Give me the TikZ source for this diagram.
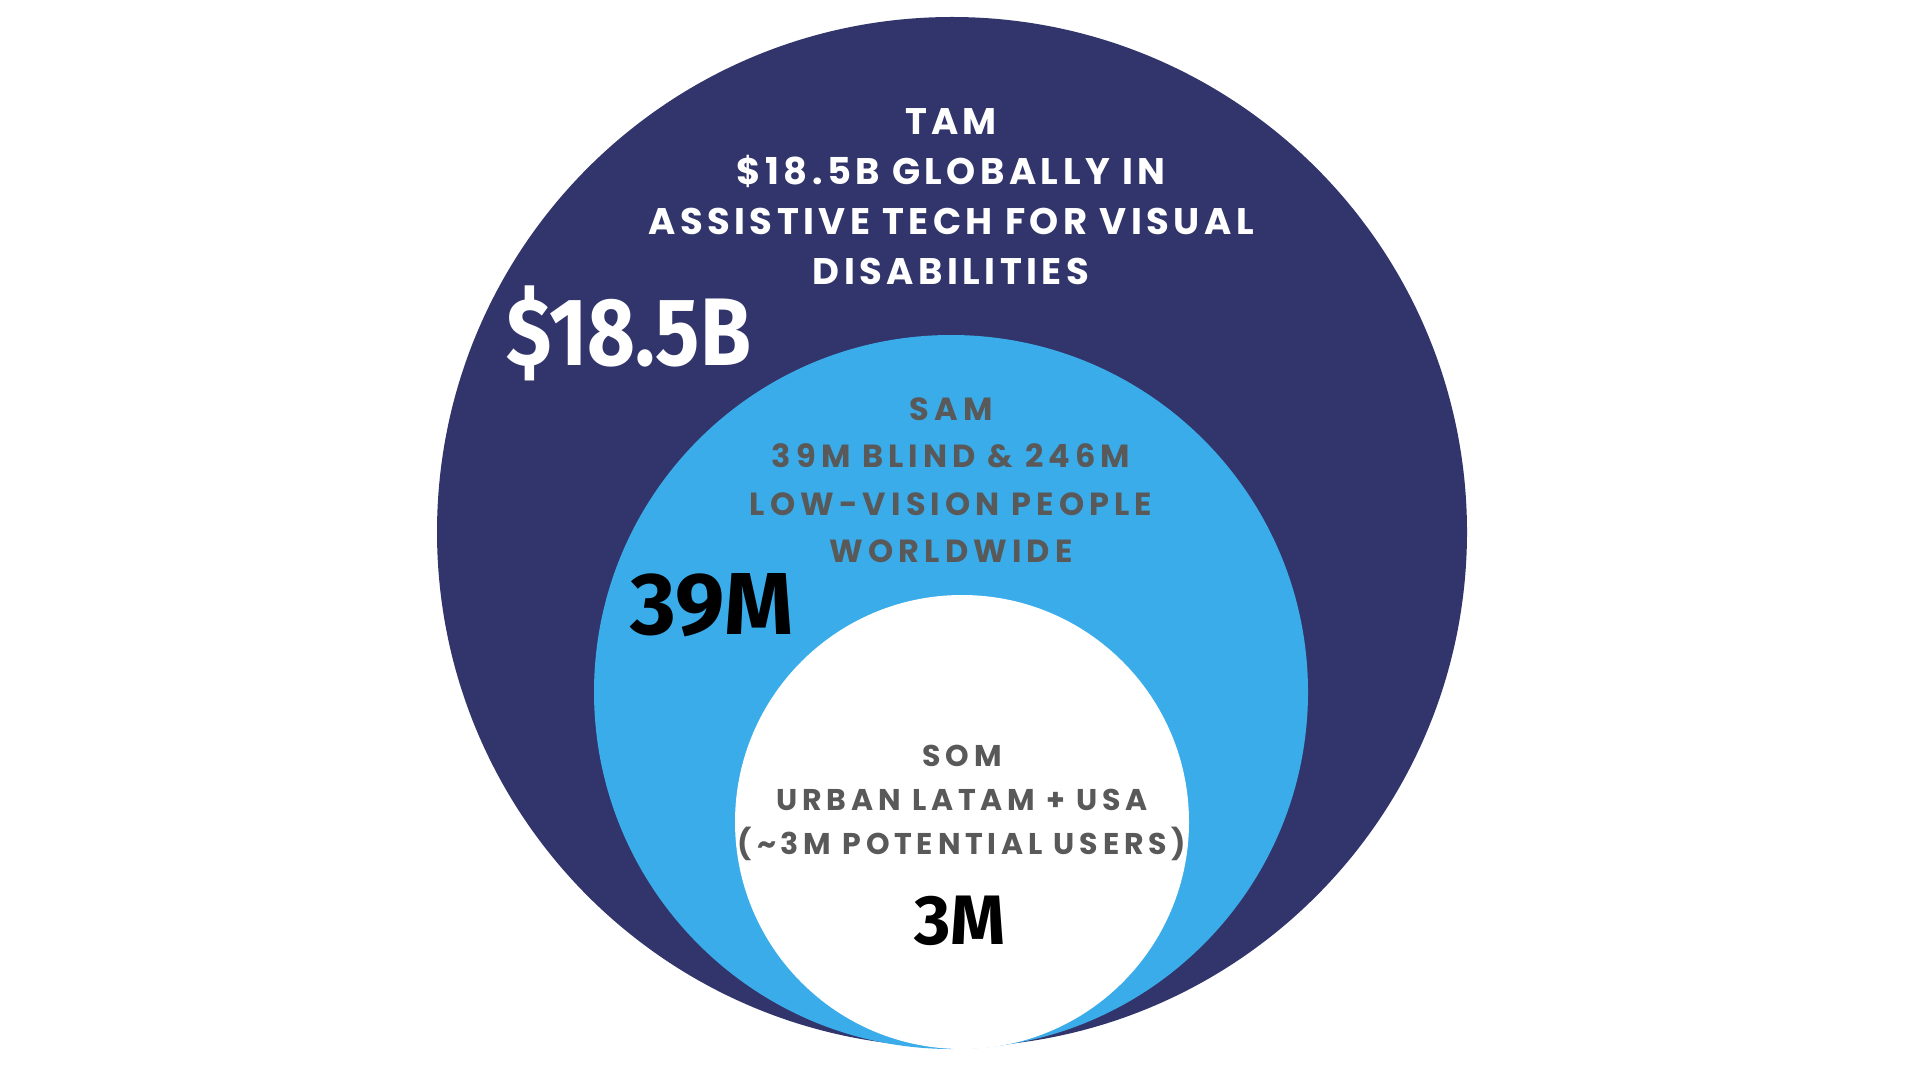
\documentclass[tikz,border=0pt]{standalone}
\usepackage{fontspec}
\setmainfont{Poppins}
\newfontfamily\tamfont[LetterSpace=12]{Poppins}
\newfontfamily\samfont[LetterSpace=16]{Poppins}
\newfontfamily\somfont[LetterSpace=16]{Poppins}
\newfontfamily\numfont{Fira Sans}
\newfontfamily\numfontc[FakeStretch=0.86]{Fira Sans}
\definecolor{navy}{HTML}{32356B}
\definecolor{skyb}{HTML}{3AACE9}
\definecolor{txtgray}{HTML}{595959}
\tikzset{
  ring/.style={circle, inner sep=0pt, outer sep=0pt},
  caps/.style={align=center, inner sep=0pt},
  bignum/.style={inner sep=0pt}
}
\begin{document}
\begin{tikzpicture}[x=0.5pt,y=-0.5pt]
\useasboundingbox (0,0) rectangle (1920,1080);
\node[ring, fill=navy, minimum size=515pt] (tam) at (952,532) {};
\node[ring, fill=skyb, minimum size=357pt] (sam) at (951,692) {};
\node[ring, fill=white, minimum size=227pt] (som) at (962,822) {};
\node[caps, text=white, font=\tamfont\bfseries\fontsize{18.5}{25}\selectfont] (tamtxt) at (951,197)
  {TAM\\\$18.5B GLOBALLY IN\\ASSISTIVE TECH FOR VISUAL\\DISABILITIES};
\node[caps, text=txtgray, font=\samfont\bfseries\fontsize{16}{23.75}\selectfont] (samtxt) at (951,480)
  {SAM\\39M BLIND \& 246M\\LOW-VISION PEOPLE\\WORLDWIDE};
\node[caps, text=txtgray, font=\somfont\bfseries\fontsize{15}{22}\selectfont] (somtxt) at (962,803)
  {SOM\\URBAN LATAM + USA\\(\textasciitilde3M POTENTIAL USERS)};
\node[bignum, text=white, font=\numfontc\bfseries\fontsize{48}{50}\selectfont] (tamnum) at (629,333) {\$18.5B};
\node[bignum, text=black, font=\numfont\bfseries\fontsize{44}{46}\selectfont] (samnum) at (712,605) {39M};
\node[bignum, text=black, font=\numfont\bfseries\fontsize{35}{38}\selectfont] (somnum) at (960,921) {3M};
\end{tikzpicture}
\end{document}
